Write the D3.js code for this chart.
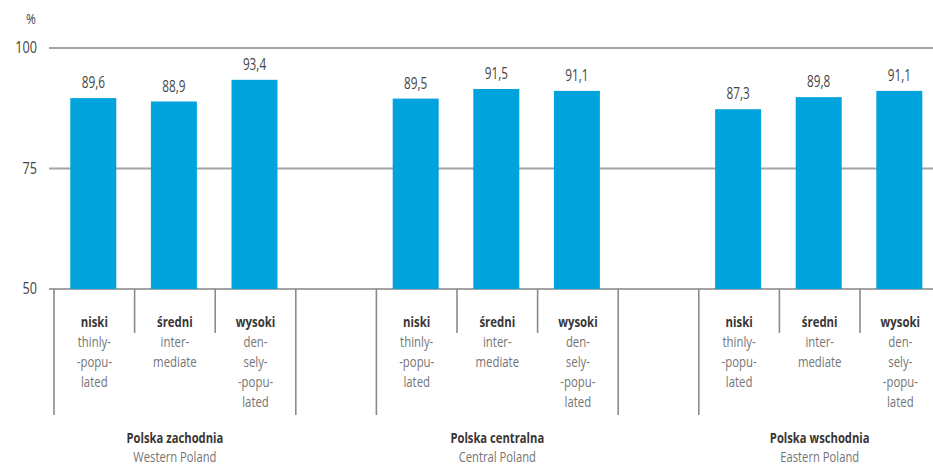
<!DOCTYPE html>
<html>
<head>
<meta charset="utf-8">
<script src="https://cdn.jsdelivr.net/npm/d3@7"></script>
<style>
  html, body { margin: 0; padding: 0; background: #fff; }
  svg { display: block; font-family: "Open Sans", sans-serif; }
</style>
</head>
<body>
<svg id="chart" width="933" height="466"></svg>
<script>
// Regions and density classes
const regionsPl = ["Polska zachodnia", "Polska centralna", "Polska wschodnia"];
const regionsEn = ["Western Poland", "Central Poland", "Eastern Poland"];
const densityPl = ["niski", "średni", "wysoki"];
const densityEn = [["thinly-", "-popu-", "lated"], ["inter-", "mediate"], ["den-", "sely-", "-popu-", "lated"]];

// Share (%) per region, ordered by density class
const westValues = [89.6, 88.9, 93.4];
const centralValues = [89.5, 91.5, 91.1];
const eastValues = [87.3, 89.8, 91.1];
const seriesValues = [westValues, centralValues, eastValues];

const yTicks = [50, 75, 100];

const svg = d3.select("#chart");
const W = 933, H = 466;
const slotsPerRegion = 4; // three bars + one empty spacer slot
const slotW = 80.6;
const x0 = 54;

const slots = d3.range(regionsPl.length * slotsPerRegion);
const x = d3.scaleBand().domain(slots).range([x0, x0 + slots.length * slotW]).padding(0);
const y = d3.scaleLinear().domain([50, 100]).range([289, 48]);

const barW = 46;
const blue = "#00a3dc";
const gridCol = "#a3a3a3";
const narrow = 0.76; // condensed look for all labels

// Draws a horizontally condensed text label anchored at (px, py)
function label(parent, px, py, str, opts) {
  const o = Object.assign({ size: 15, weight: "normal", fill: "#777", anchor: "middle", sx: narrow }, opts || {});
  parent.append("g")
    .attr("transform", `translate(${px},${py}) scale(${o.sx},1)`)
    .append("text")
    .attr("text-anchor", o.anchor)
    .attr("font-size", o.size)
    .attr("font-weight", o.weight)
    .attr("fill", o.fill)
    .text(str);
}

// Gridlines and the base axis line
svg.append("g").selectAll("line").data(yTicks).join("line")
  .attr("x1", 49).attr("x2", W)
  .attr("y1", d => y(d)).attr("y2", d => y(d))
  .attr("stroke", gridCol).attr("stroke-width", 1.8);

// Y tick labels
const tickG = svg.append("g");
yTicks.forEach(t => label(tickG, 37, y(t) + 5, String(t), { size: 15.5, fill: "#444", anchor: "end", sx: 0.82 }));
label(svg, 31, 24, "%", { size: 14.5, fill: "#444", sx: 0.82 });

const bars = [];
seriesValues.forEach((vals, g) => {
  vals.forEach((v, i) => bars.push({ g, i, v, slot: g * slotsPerRegion + i }));
});

// Bars
svg.append("g").selectAll("rect").data(bars).join("rect")
  .attr("x", d => x(d.slot) + x.bandwidth() / 2 - barW / 2 - 1)
  .attr("width", barW)
  .attr("y", d => y(d.v))
  .attr("height", d => y(50) - y(d.v))
  .attr("fill", blue);

// Value labels
const valG = svg.append("g");
bars.forEach(d => label(valG, x(d.slot) + x.bandwidth() / 2 - 1, y(d.v) - 10,
  d3.format(".1f")(d.v).replace(".", ","), { size: 15.5, fill: "#444" }));

// Category separators: long at region edges, short between classes
const sep = svg.append("g").attr("stroke", "#8a8a8a").attr("stroke-width", 1.6);
regionsPl.forEach((r, g) => {
  for (let k = 0; k <= 3; k++) {
    const xx = x(g * slotsPerRegion) + k * x.bandwidth();
    const edge = (k === 0 || k === 3);
    sep.append("line")
      .attr("x1", xx).attr("x2", xx)
      .attr("y1", y(50)).attr("y2", edge ? 415 : 333);
  }
});

// Density class labels
const lab = svg.append("g");
bars.forEach(d => {
  const cx = x(d.slot) + x.bandwidth() / 2;
  label(lab, cx, 327, densityPl[d.i], { size: 15, weight: "bold", fill: "#3a3535" });
  densityEn[d.i].forEach((t, j) => label(lab, cx, 347 + j * 20, t, { size: 15, fill: "#757575" }));
});

// Region labels
regionsPl.forEach((r, g) => {
  const cx = x(g * slotsPerRegion) + 1.5 * x.bandwidth();
  label(svg, cx, 443, r, { size: 14.8, weight: "bold", fill: "#3a3535" });
  label(svg, cx, 462, regionsEn[g], { size: 14.8, fill: "#757575" });
});
</script>
</body>
</html>
